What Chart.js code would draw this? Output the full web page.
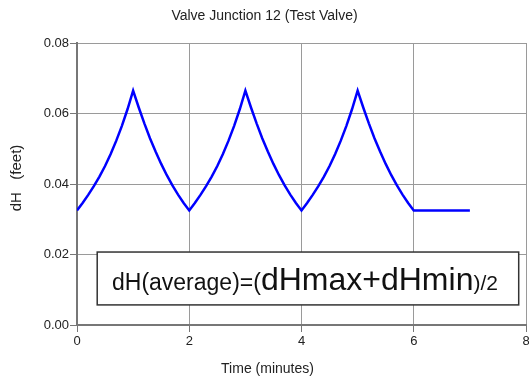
<!DOCTYPE html>
<html>
<head>
    <title>Valve Junction 12</title>
    <script src="https://cdn.jsdelivr.net/npm/chart.js"></script>
    <style>
        body, html {
            margin: 0;
            padding: 0;
            background: #fff;
            overflow: hidden;
        }
        canvas { display: block; }
    </style>
</head>
<body>
<canvas id="dhChart" width="529" height="382"></canvas>

<script>
    // time in minutes
    const timeMin = [
        0.0, 0.1, 0.2, 0.3, 0.4, 0.5, 0.6, 0.7, 0.8, 0.9,
        1.0, 1.1, 1.2, 1.3, 1.4, 1.5, 1.6, 1.7, 1.8, 1.9,
        2.0, 2.1, 2.2, 2.3, 2.4, 2.5, 2.6, 2.7, 2.8, 2.9,
        3.0, 3.1, 3.2, 3.3, 3.4, 3.5, 3.6, 3.7, 3.8, 3.9,
        4.0, 4.1, 4.2, 4.3, 4.4, 4.5, 4.6, 4.7, 4.8, 4.9,
        5.0, 5.1, 5.2, 5.3, 5.4, 5.5, 5.6, 5.7, 5.8, 5.9,
        6.0, 7.0
    ];
    // dH in feet
    const dHFeet = [
        0.0325, 0.0346, 0.0369, 0.0394, 0.0421, 0.0451, 0.0485, 0.0523, 0.0565, 0.0612,
        0.0665, 0.0617, 0.0572, 0.0530, 0.0492, 0.0457, 0.0425, 0.0396, 0.0370, 0.0346,
        0.0325, 0.0346, 0.0369, 0.0394, 0.0421, 0.0451, 0.0485, 0.0523, 0.0565, 0.0612,
        0.0665, 0.0617, 0.0572, 0.0530, 0.0492, 0.0457, 0.0425, 0.0396, 0.0370, 0.0346,
        0.0325, 0.0346, 0.0369, 0.0394, 0.0421, 0.0451, 0.0485, 0.0523, 0.0565, 0.0612,
        0.0665, 0.0617, 0.0572, 0.0530, 0.0492, 0.0457, 0.0425, 0.0396, 0.0370, 0.0346,
        0.0325, 0.0325
    ];
    const xTicks = [0, 2, 4, 6, 8];
    const yTicks = [0, 0.02, 0.04, 0.06, 0.08];

    const FONT = 'Arial, "Liberation Sans", sans-serif';

    // box with the formula, in data units
    const noteBox = { x0: 0.36, x1: 7.87, y0: 0.0057, y1: 0.0207 };
    const noteParts = [
        ['dH(average)=(', 23],
        ['dHmax+dHmin', 32],
        [')/2', 21]
    ];

    const textPlugin = {
        id: 'texts',
        afterDraw(chart) {
            const ctx = chart.ctx;
            const a = chart.chartArea;
            const xs = chart.scales.x, ys = chart.scales.y;
            ctx.save();
            ctx.fillStyle = '#222';

            // title
            ctx.font = '14px ' + FONT;
            ctx.textAlign = 'center';
            ctx.textBaseline = 'middle';
            ctx.fillText('Valve Junction 12 (Test Valve)', chart.width / 2, 16);

            // x title
            ctx.fillText('Time (minutes)', chart.width / 2 + 3, 369);

            // y title
            ctx.save();
            ctx.font = '15px ' + FONT;
            ctx.translate(17, 178);
            ctx.rotate(-Math.PI / 2);
            ctx.fillText('dH   (feet)', 0, 0);
            ctx.restore();

            // formula box
            const bx0 = xs.getPixelForValue(noteBox.x0);
            const bx1 = xs.getPixelForValue(noteBox.x1);
            const by0 = ys.getPixelForValue(noteBox.y1);
            const by1 = ys.getPixelForValue(noteBox.y0);
            ctx.fillStyle = '#fff';
            ctx.fillRect(bx0, by0, bx1 - bx0, by1 - by0);
            ctx.strokeStyle = '#333';
            ctx.lineWidth = 1.5;
            ctx.strokeRect(bx0, by0, bx1 - bx0, by1 - by0);

            ctx.fillStyle = '#111';
            ctx.textAlign = 'left';
            ctx.textBaseline = 'alphabetic';
            let total = 0;
            noteParts.forEach(p => {
                ctx.font = p[1] + 'px ' + FONT;
                total += ctx.measureText(p[0]).width;
            });
            let x = (bx0 + bx1) / 2 - total / 2 - 3;
            const base = by1 - 15;
            noteParts.forEach(p => {
                ctx.font = p[1] + 'px ' + FONT;
                ctx.fillText(p[0], x, base);
                x += ctx.measureText(p[0]).width;
            });
            ctx.restore();
        }
    };

    const gridStyle = { color: '#9a9a9a', lineWidth: 1, tickLength: 7, tickColor: '#777' };
    const borderStyle = { color: '#777', width: 2 };

    new Chart(document.getElementById('dhChart').getContext('2d'), {
        type: 'line',
        data: {
            datasets: [{
                label: 'dH',
                data: timeMin.map((t, i) => ({ x: t, y: dHFeet[i] })),
                borderColor: '#0000ff',
                borderWidth: 2.5,
                pointRadius: 0,
                tension: 0,
                fill: false
            }]
        },
        options: {
            responsive: false,
            animation: false,
            layout: { padding: { top: 43, right: 3, left: 0, bottom: 0 } },
            plugins: {
                legend: { display: false },
                title: { display: false },
                tooltip: { enabled: false }
            },
            scales: {
                x: {
                    type: 'linear',
                    min: 0,
                    max: 8,
                    afterBuildTicks(s) { s.ticks = xTicks.map(v => ({ value: v })); },
                    afterFit(s) { s.height = 57; s.paddingRight = 0; },
                    ticks: {
                        color: '#222',
                        font: { size: 13, family: FONT },
                        padding: 2,
                        callback: v => String(v)
                    },
                    grid: gridStyle,
                    border: borderStyle
                },
                y: {
                    min: 0,
                    max: 0.08,
                    afterBuildTicks(s) { s.ticks = yTicks.map(v => ({ value: v })); },
                    afterFit(s) { s.width = 77; },
                    ticks: {
                        color: '#222',
                        font: { size: 13, family: FONT },
                        padding: 1,
                        callback: v => v.toFixed(2)
                    },
                    grid: gridStyle,
                    border: borderStyle
                }
            }
        },
        plugins: [textPlugin]
    });
</script>
</body>
</html>
